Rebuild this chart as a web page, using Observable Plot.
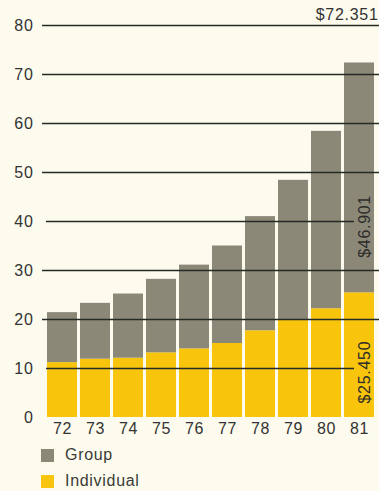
<!DOCTYPE html>
<html>
<head>
<meta charset="utf-8">
<script src="https://cdn.jsdelivr.net/npm/d3@7"></script>
<script src="https://cdn.jsdelivr.net/npm/@observablehq/plot@0.6"></script>
<style>
  html, body { margin: 0; padding: 0; background: #fdfbee; overflow: hidden; }
  body { width: 379px; height: 491px; font-family: "Liberation Sans", Arial, Helvetica, sans-serif; color: #333; }
  #chart svg { display: block; background: transparent; letter-spacing: 0.7px; }
  .legend { position: relative; margin: 0; padding: 0; }
  .legend .row { display: flex; align-items: center; height: 26px; margin-left: 41px; font-size: 16px; letter-spacing: 0.7px; color: #3a3a36; }
  .legend .sw { width: 13px; height: 13px; margin-right: 11px; }
</style>
</head>
<body>
<div id="chart"></div>
<div class="legend" id="legend"></div>
<script>
// Premium income by line of business, 1972–1981 (millions of dollars)
const years = ["72", "73", "74", "75", "76", "77", "78", "79", "80", "81"];
const individual = [11.2, 11.9, 12.1, 13.2, 14.0, 15.1, 17.7, 19.9, 22.2, 25.450];
const group = [10.2, 11.4, 13.1, 15.0, 17.1, 19.9, 23.3, 28.5, 36.2, 46.901];
const seriesNames = ["Group", "Individual"];
const seriesColors = ["#8c8878", "#f9c50c"];
const yTicks = [0, 10, 20, 30, 40, 50, 60, 70, 80];

const fmt = (v) => "$" + v.toFixed(3);

// long table for stacking: Individual at the bottom, Group above it
const rows = [];
years.forEach((yr, i) => {
  rows.push({year: yr, series: "Individual", value: individual[i]});
  rows.push({year: yr, series: "Group", value: group[i]});
});

const last = years.length - 1;
const lastYear = years[last];
const totalLast = individual[last] + group[last];

// gridlines that run behind the rotated labels stop short of the last bar
const shortLines = [10, 40];
const fullLines = yTicks.filter((t) => t > 0 && !shortLines.includes(t));

const chart = Plot.plot({
  width: 379,
  height: 442,
  marginTop: 25,
  marginBottom: 25,
  marginLeft: 42,
  marginRight: 0,
  style: {fontFamily: "'Liberation Sans', Arial, Helvetica, sans-serif", fontSize: "16px", color: "#333", background: "transparent"},
  x: {domain: years, paddingInner: 0.1, paddingOuter: 0.05, label: null},
  y: {domain: [0, 80], label: null},
  color: {domain: seriesNames, range: seriesColors},
  marks: [
    Plot.barY(rows, Plot.stackY({
      x: "year",
      y: "value",
      fill: "series",
      order: ["Individual", "Group"]
    })),
    Plot.ruleY(fullLines, {stroke: "#262a26", strokeWidth: 1.4}),
    Plot.ruleY(shortLines, {
      x1: () => years[0],
      x2: () => lastYear,
      insetLeft: -1,
      insetRight: 20,
      stroke: "#262a26",
      strokeWidth: 1.4
    }),
    Plot.axisY({ticks: yTicks, tickSize: 0, tickPadding: 9, fontSize: 16, fill: "#333"}),
    Plot.axisX({tickSize: 0, tickPadding: 5, fontSize: 16, fill: "#333"}),
    // total for the final year, top right
    Plot.text([totalLast], {
      frameAnchor: "top-right",
      text: (d) => fmt(d),
      textAnchor: "end",
      lineAnchor: "bottom",
      dx: -1,
      dy: -6,
      fontSize: 16,
      fill: "#333"
    }),
    // segment values for the final year, reading upward inside the bar
    Plot.text([individual[last]], {
      x: () => lastYear,
      y: () => 0,
      text: (d) => fmt(d),
      rotate: -90,
      textAnchor: "start",
      dx: 5,
      dy: -14,
      fontSize: 16,
      fill: "#2c2c2a"
    }),
    Plot.text([group[last]], {
      x: () => lastYear,
      y: () => individual[last],
      text: (d) => fmt(d),
      rotate: -90,
      textAnchor: "start",
      dx: 5,
      dy: -35,
      fontSize: 16,
      fill: "#2c2c2a"
    })
  ]
});
document.getElementById("chart").appendChild(chart);

// legend: Group above Individual
const legend = document.getElementById("legend");
seriesNames.forEach((name, i) => {
  const row = document.createElement("div");
  row.className = "row";
  const sw = document.createElement("span");
  sw.className = "sw";
  sw.style.background = seriesColors[i];
  const label = document.createElement("span");
  label.textContent = name;
  row.appendChild(sw);
  row.appendChild(label);
  legend.appendChild(row);
});
</script>
</body>
</html>
